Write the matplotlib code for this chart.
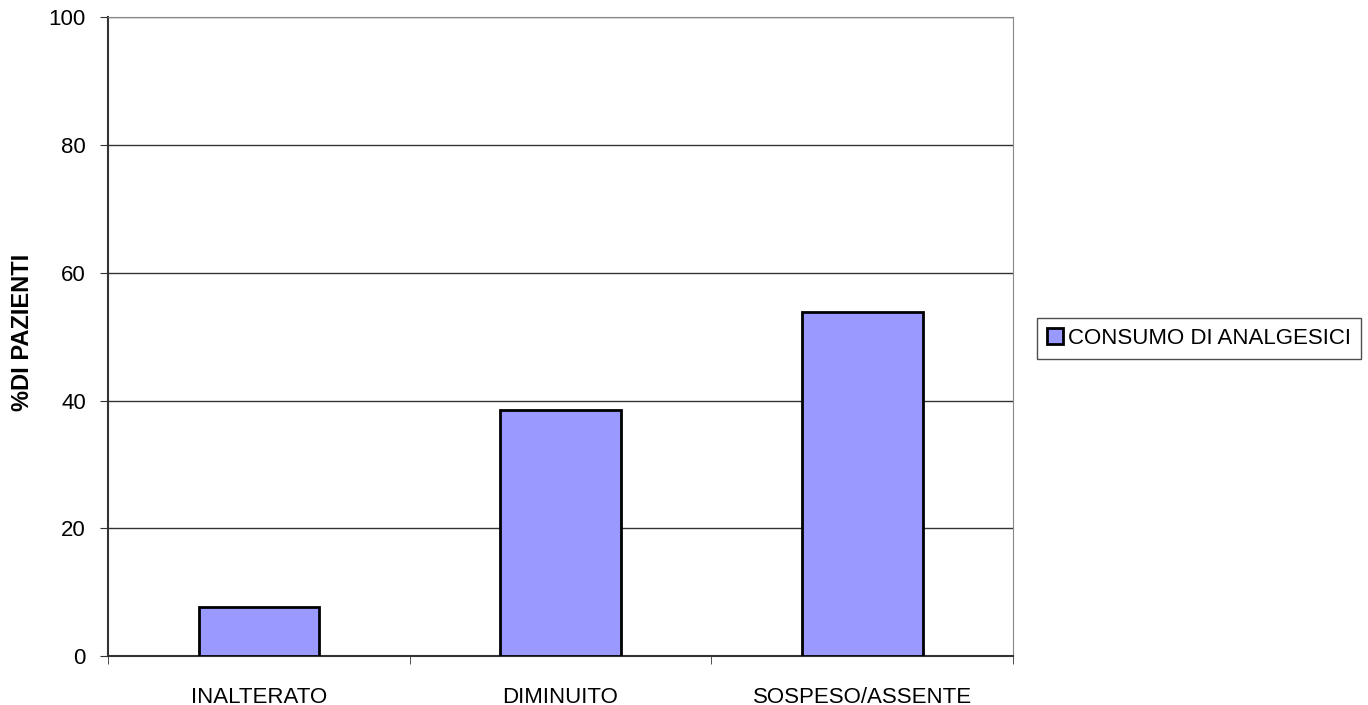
import matplotlib.pyplot as plt
import numpy as np

plt.rcParams['font.family'] = ['Liberation Sans', 'DejaVu Sans']

# dati
categorie = ['INALTERATO', 'DIMINUITO', 'SOSPESO/ASSENTE']
valori = [7.7, 38.5, 53.8]
serie = 'CONSUMO DI ANALGESICI'

fig = plt.figure(figsize=(13.68, 7.05), dpi=100)
ax = fig.add_axes([0.079, 0.0695, 0.6615, 0.906])

x = np.arange(len(categorie))
ax.bar(x, valori, width=0.4, color='#9999ff', edgecolor='black', linewidth=2,
       label=serie, zorder=3)

ax.set_xlim(-0.5, len(categorie) - 0.5)
ax.set_ylim(0, 100)
ax.set_yticks([0, 20, 40, 60, 80, 100])
ax.yaxis.grid(True, color='#333333', linewidth=1)
ax.set_axisbelow(True)

ax.set_xticks(x)
ax.set_xticklabels(categorie, fontsize=16)
ax.set_xticks(np.arange(len(categorie) + 1) - 0.5, minor=True)
ax.tick_params(axis='x', which='major', length=0, pad=22)
ax.tick_params(axis='x', which='minor', length=6, color='#333333')
ax.tick_params(axis='y', length=6, color='#333333', labelsize=16, pad=10)

for lato in ['top', 'right']:
    ax.spines[lato].set_color('#888888')
for lato in ['left', 'bottom']:
    ax.spines[lato].set_color('#333333')
    ax.spines[lato].set_linewidth(1.5)

fig.text(23 / 1368, 1 - 332 / 705, '%DI PAZIENTI', rotation=90, fontsize=17,
         fontweight='bold', ha='center', va='center')

leg = fig.legend(loc='center left', bbox_to_anchor=(1037 / 1368, 1 - 338 / 705),
                 fontsize=16, frameon=True, fancybox=False, handlelength=0.7,
                 handleheight=0.7, handletextpad=0.25, borderpad=0.45,
                 borderaxespad=0)
leg.get_frame().set_edgecolor('#222222')
leg.get_frame().set_linewidth(1)

fig.savefig('out.png', dpi=100)
